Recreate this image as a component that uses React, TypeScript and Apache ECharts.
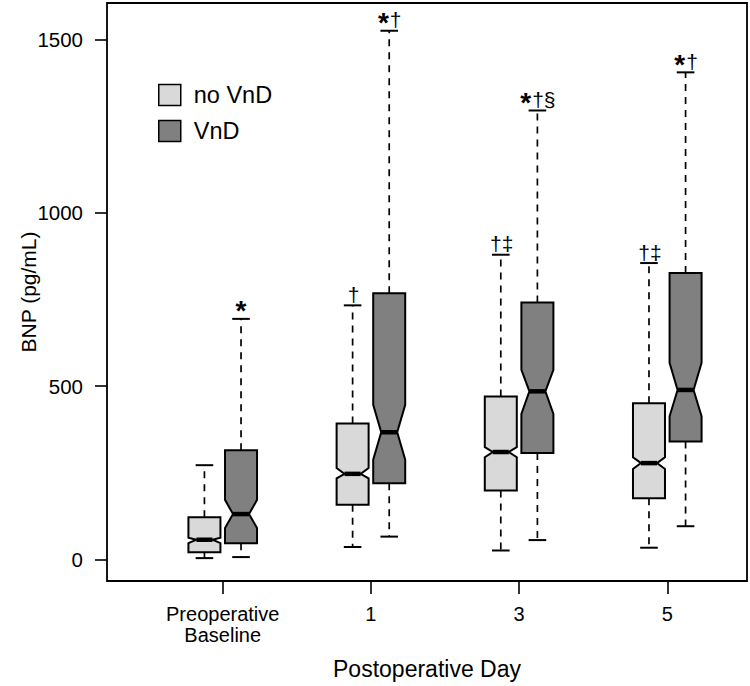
import React, { useEffect, useRef } from "react";
import * as echarts from "echarts";

// ---- Data ----
const CATEGORIES = ["Preoperative\nBaseline", "1", "3", "5"];
const CATEGORY_POS = [1, 2, 3, 4];
const Y_TICKS = [0, 500, 1000, 1500];

const NOVND_MIN = [4, 36, 26, 34];
const NOVND_Q1 = [21, 158, 199, 177];
const NOVND_NOTCH_LO = [47, 234, 295, 261];
const NOVND_MEDIAN = [57, 247, 310, 278];
const NOVND_NOTCH_HI = [63, 264, 324, 295];
const NOVND_Q3 = [122, 392, 470, 451];
const NOVND_MAX = [272, 733, 879, 855];
const NOVND_MARKS = ["", "†", "†‡", "†‡"];

const VND_MIN = [7, 66, 56, 96];
const VND_Q1 = [47, 220, 307, 340];
const VND_NOTCH_LO = [91, 288, 420, 413];
const VND_MEDIAN = [131, 367, 485, 489];
const VND_NOTCH_HI = [172, 446, 547, 567];
const VND_Q3 = [315, 768, 741, 826];
const VND_MAX = [694, 1525, 1295, 1405];
const VND_MARKS = ["*", "*†", "*†§", "*†"];

// ---- Styling constants ----
const FONT = "'Liberation Sans', Arial, sans-serif";
const LIGHT = "#d9d9d9";
const DARK = "#808080";
const BOX_HALF = 0.108; // in x-axis units
const GROUP_OFFSET = 0.1235;
const STAR_FONT = `bold 28px ${FONT}`;
const MARK_FONT = `21px ${FONT}`;

let measureCtx: CanvasRenderingContext2D | null = null;
function textWidth(text: string, font: string): number {
  if (!text) return 0;
  if (!measureCtx) measureCtx = document.createElement("canvas").getContext("2d");
  if (!measureCtx) return text.length * 11;
  measureCtx.font = font;
  return measureCtx.measureText(text).width;
}

function buildRows(mins, q1, nlo, med, nhi, q3, maxs) {
  return CATEGORY_POS.map((p, i) => [p, mins[i], q1[i], nlo[i], med[i], nhi[i], q3[i], maxs[i]]);
}

function makeRenderItem(fill: string, offset: number, marks: string[]) {
  return (params: any, api: any) => {
    const cx = api.value(0) + offset;
    const pt = (v: number) => api.coord([cx, v]);
    const hw = api.size([BOX_HALF, 0])[0];
    const [px, yLow] = pt(api.value(1));
    const yQ1 = pt(api.value(2))[1];
    const yNLo = pt(api.value(3))[1];
    const yMed = pt(api.value(4))[1];
    const yNHi = pt(api.value(5))[1];
    const yQ3 = pt(api.value(6))[1];
    const yHigh = pt(api.value(7))[1];
    const inset = hw * 0.5;
    const capHalf = hw * 0.55;
    const mark = marks[params.dataIndex] || "";
    const star = mark.startsWith("*") ? "*" : "";
    const rest = star ? mark.slice(1) : mark;

    const dashed = { stroke: "#000", lineWidth: 1.7, lineDash: [7, 6] };
    const solid = { stroke: "#000", lineWidth: 2 };

    const children: any[] = [
      { type: "line", shape: { x1: px, y1: yQ3, x2: px, y2: yHigh }, style: dashed },
      { type: "line", shape: { x1: px, y1: yQ1, x2: px, y2: yLow }, style: dashed },
      { type: "line", shape: { x1: px - capHalf, y1: yHigh, x2: px + capHalf, y2: yHigh }, style: solid },
      { type: "line", shape: { x1: px - capHalf, y1: yLow, x2: px + capHalf, y2: yLow }, style: solid },
      {
        type: "polygon",
        shape: {
          points: [
            [px - hw, yQ3],
            [px + hw, yQ3],
            [px + hw, yNHi],
            [px + inset, yMed],
            [px + hw, yNLo],
            [px + hw, yQ1],
            [px - hw, yQ1],
            [px - hw, yNLo],
            [px - inset, yMed],
            [px - hw, yNHi],
          ],
        },
        style: { fill, stroke: "#000", lineWidth: 2, lineJoin: "miter" },
      },
      { type: "line", shape: { x1: px - inset, y1: yMed, x2: px + inset, y2: yMed }, style: { stroke: "#000", lineWidth: 4.5 } },
    ];

    const wStar = textWidth(star, STAR_FONT);
    const wRest = textWidth(rest, MARK_FONT);
    const left = px - (wStar + wRest) / 2;
    if (star) {
      children.push({
        type: "text",
        x: left,
        y: yHigh - 8,
        style: { text: star, font: STAR_FONT, fill: "#000", align: "left", verticalAlign: "middle" },
      });
    }
    if (rest) {
      children.push({
        type: "text",
        x: left + wStar + 1,
        y: yHigh - 11,
        style: { text: rest, font: MARK_FONT, fill: "#000", align: "left", verticalAlign: "middle" },
      });
    }
    return { type: "group", children };
  };
}

export default function App() {
  const ref = useRef<HTMLDivElement>(null);
  useEffect(() => {
    if (!ref.current) return;
    const chart = echarts.init(ref.current, null, { renderer: "svg" });
    const option: any = {
      animation: false,
      textStyle: { fontFamily: FONT },
      grid: {
        left: 107,
        top: 3,
        right: 3,
        bottom: 105,
        show: true,
        borderColor: "#000",
        borderWidth: 1.8,
        backgroundColor: "transparent",
      },
      legend: {
        orient: "vertical",
        left: 158,
        top: 83,
        padding: 0,
        itemWidth: 22,
        itemHeight: 21,
        itemGap: 12,
        icon: "rect",
        selectedMode: false,
        itemStyle: { borderColor: "#000", borderWidth: 1.5 },
        textStyle: { fontSize: 23.5, color: "#000", fontFamily: FONT, padding: [0, 0, 0, 8] },
        data: ["no VnD", "VnD"],
      },
      xAxis: {
        type: "value",
        min: 0.219,
        max: 4.538,
        axisLine: { show: false, onZero: false },
        splitLine: { show: false },
        axisTick: { show: true, customValues: CATEGORY_POS, length: 13, lineStyle: { color: "#000", width: 1.6 } },
        axisLabel: {
          customValues: CATEGORY_POS,
          formatter: (v: number) => CATEGORIES[Math.round(v) - 1] ?? "",
          margin: 22,
          fontSize: 20,
          lineHeight: 21,
          color: "#000",
          fontFamily: FONT,
        },
        name: "Postoperative Day",
        nameLocation: "middle",
        nameGap: 76,
        nameMoveOverlap: false,
        nameTextStyle: { fontSize: 23, color: "#000", fontFamily: FONT },
      },
      yAxis: {
        type: "value",
        min: -62,
        max: 1605,
        axisLine: { show: false, onZero: false },
        splitLine: { show: false },
        axisTick: { show: true, customValues: Y_TICKS, length: 12, lineStyle: { color: "#000", width: 1.6 } },
        axisLabel: {
          customValues: Y_TICKS,
          formatter: (v: number) => String(v),
          margin: 24,
          fontSize: 20.5,
          color: "#000",
          fontFamily: FONT,
        },
        name: "BNP (pg/mL)",
        nameLocation: "middle",
        nameGap: 68,
        nameMoveOverlap: false,
        nameTextStyle: { fontSize: 21, color: "#000", fontFamily: FONT },
      },
      series: [
        {
          type: "custom",
          name: "no VnD",
          itemStyle: { color: LIGHT },
          clip: false,
          encode: { x: 0, y: [1, 2, 3, 4, 5, 6, 7] },
          renderItem: makeRenderItem(LIGHT, -GROUP_OFFSET, NOVND_MARKS),
          data: buildRows(NOVND_MIN, NOVND_Q1, NOVND_NOTCH_LO, NOVND_MEDIAN, NOVND_NOTCH_HI, NOVND_Q3, NOVND_MAX),
        },
        {
          type: "custom",
          name: "VnD",
          itemStyle: { color: DARK },
          clip: false,
          encode: { x: 0, y: [1, 2, 3, 4, 5, 6, 7] },
          renderItem: makeRenderItem(DARK, GROUP_OFFSET, VND_MARKS),
          data: buildRows(VND_MIN, VND_Q1, VND_NOTCH_LO, VND_MEDIAN, VND_NOTCH_HI, VND_Q3, VND_MAX),
        },
      ],
    };
    chart.setOption(option);
    return () => chart.dispose();
  }, []);
  return (
    <div
      ref={ref}
      style={{ position: "absolute", left: 0, top: 0, width: 750, height: 686, background: "#fff" }}
    />
  );
}
